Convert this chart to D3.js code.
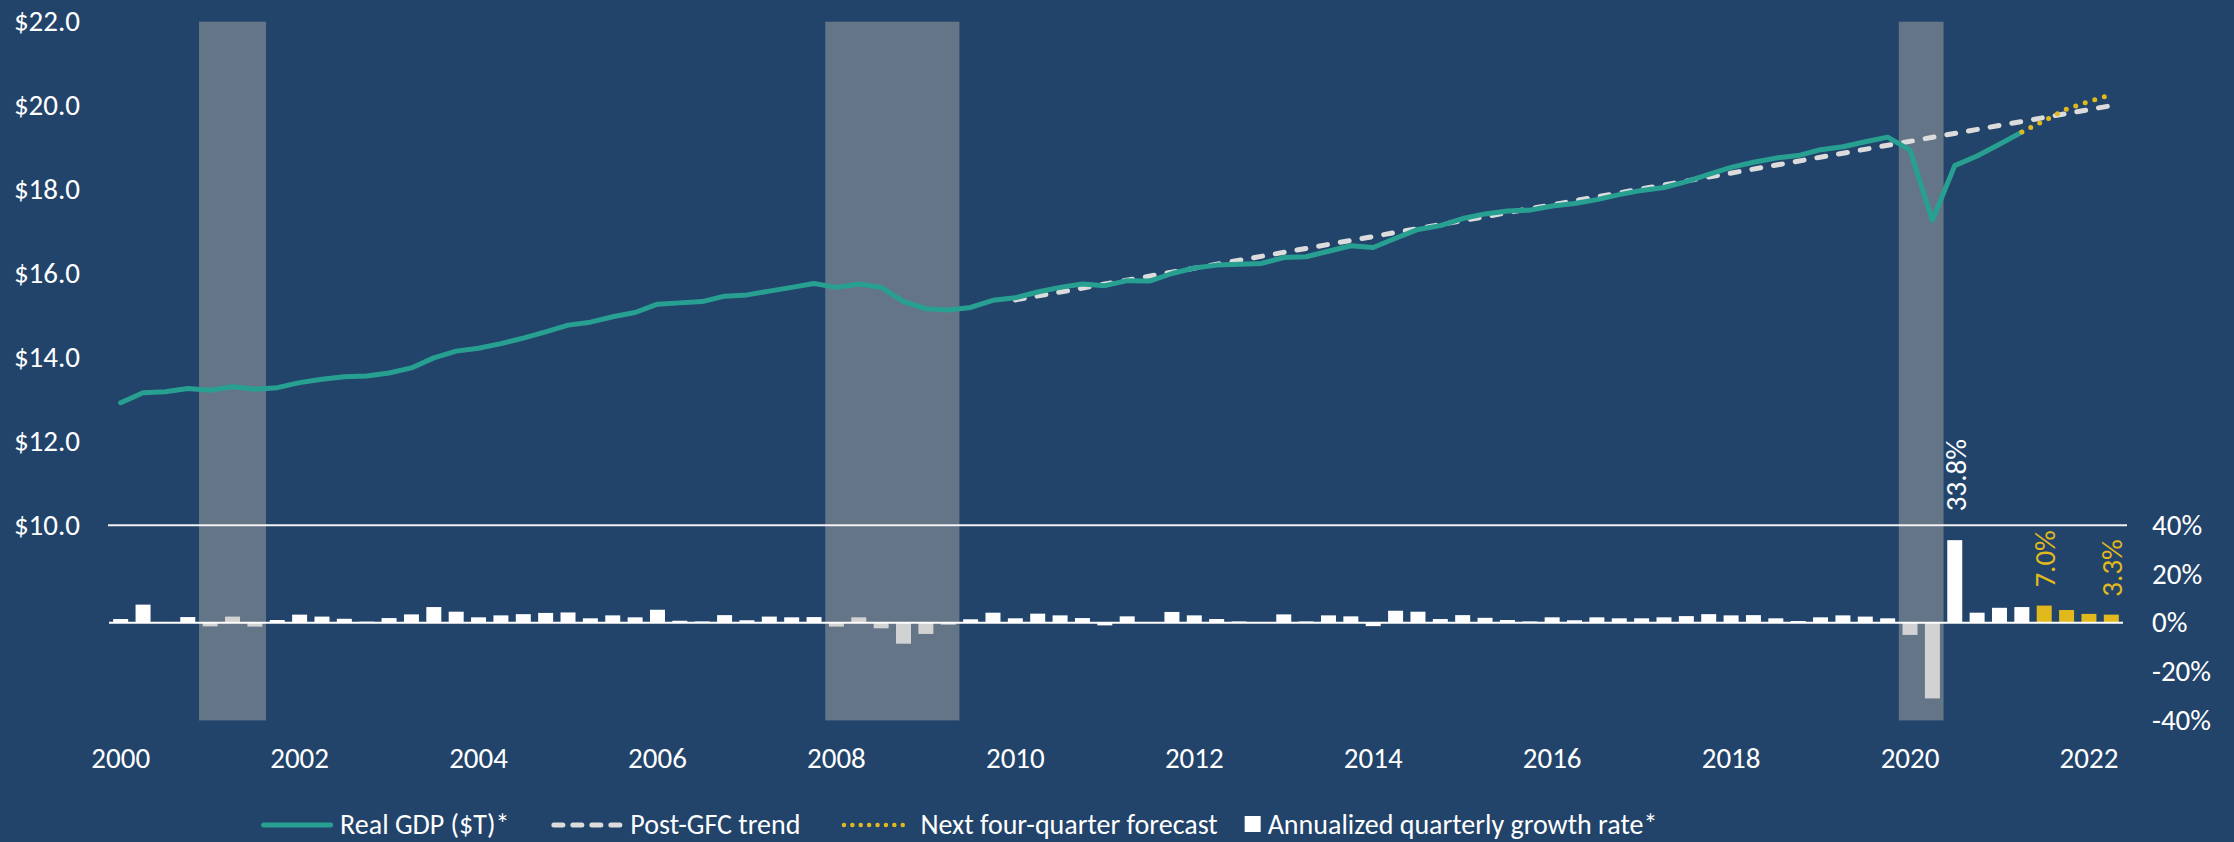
<!DOCTYPE html>
<html>
<head>
<meta charset="utf-8">
<script src="https://cdn.jsdelivr.net/npm/d3@7"></script>
<style>
  body { margin: 0; background: #22446b; }
  svg { display: block; font-family: Carlito, Calibri, Lato, sans-serif; }
</style>
</head>
<body>
<svg id="gdp_chart"></svg>
<script>
const width = 2234, height = 842;

// categories
const years = [2000, 2001, 2002, 2003, 2004, 2005, 2006, 2007, 2008, 2009, 2010,
  2011, 2012, 2013, 2014, 2015, 2016, 2017, 2018, 2019, 2020, 2021, 2022];
const quarters = years.flatMap(y => ["Q1", "Q2", "Q3", "Q4"].map(q => y + q)).slice(0, 90);

// real GDP, $T, 2000Q1 .. 2021Q2
const gdp = [
  12.92, 13.16, 13.18, 13.26, 13.22, 13.30, 13.24, 13.28,
  13.40, 13.48, 13.54, 13.56, 13.63, 13.75, 13.99, 14.15,
  14.22, 14.33, 14.46, 14.61, 14.77, 14.84, 14.97, 15.07,
  15.27, 15.30, 15.33, 15.46, 15.49, 15.58, 15.67, 15.76,
  15.67, 15.75, 15.67, 15.33, 15.16, 15.13, 15.19, 15.36,
  15.42, 15.56, 15.67, 15.75, 15.71, 15.83, 15.82, 16.00,
  16.13, 16.20, 16.22, 16.24, 16.38, 16.40, 16.53, 16.66,
  16.62, 16.84, 17.05, 17.14, 17.31, 17.42, 17.49, 17.51,
  17.61, 17.67, 17.76, 17.88, 17.98, 18.05, 18.19, 18.36,
  18.53, 18.65, 18.75, 18.81, 18.95, 19.02, 19.14, 19.25,
  18.94, 17.27, 18.57, 18.80, 19.08, 19.37
];

// annualized quarterly growth, %, 2000Q1 .. 2021Q2
const growth = [
  1.5, 7.4, 0.3, 2.3, -1.5, 2.5, -1.6, 1.1,
  3.3, 2.5, 1.6, 0.4, 1.9, 3.4, 6.4, 4.5,
  2.2, 3.0, 3.5, 4.0, 4.2, 1.8, 3.0, 2.2,
  5.3, 0.8, 0.5, 3.1, 1.0, 2.5, 2.2, 2.3,
  -1.6, 2.2, -2.3, -8.6, -4.6, -0.8, 1.4, 4.1,
  1.8, 3.7, 3.0, 1.9, -1.1, 2.6, -0.1, 4.4,
  3.0, 1.5, 0.5, 0.1, 3.4, 0.5, 3.0, 2.6,
  -1.4, 4.9, 4.5, 1.5, 3.1, 2.0, 1.1, 0.5,
  2.2, 1.0, 2.2, 1.8, 1.8, 2.2, 2.7, 3.5,
  3.0, 3.1, 1.8, 0.7, 2.2, 3.0, 2.5, 1.8,
  -5.0, -31.0, 33.8, 4.1, 6.1, 6.4
];

// next four quarters
const forecastQuarters = ["2021Q3", "2021Q4", "2022Q1", "2022Q2"];
const forecastGrowth = [7.0, 5.2, 3.6, 3.3];
const forecastGdpQuarters = ["2021Q2", "2021Q3", "2021Q4", "2022Q1", "2022Q2"];
const forecastGdp = [19.37, 19.64, 19.92, 20.10, 20.26];

// post-GFC trend end points
const trendQuarters = ["2010Q1", "2022Q2"];
const trendValues = [15.37, 20.0];

const recessions = [["2001Q1", "2001Q3"], ["2008Q1", "2009Q2"], ["2020Q1", "2020Q2"]];
const labelledQuarters = ["2020Q3", "2021Q3", "2022Q2"];

const gdpTicks = [10, 12, 14, 16, 18, 20, 22];
const growthTicks = [-40, -20, 0, 20, 40];
const yearTicks = ["2000Q1", "2002Q1", "2004Q1", "2006Q1", "2008Q1", "2010Q1", "2012Q1",
  "2014Q1", "2016Q1", "2018Q1", "2020Q1", "2022Q1"];

const colours = { teal: "#27a091", trend: "#dcdcdc", gold: "#e2b91c", shade: "#a6a6a6", text: "#ffffff" };
const fontSize = 29;

const svg = d3.select("#gdp_chart")
  .attr("width", width)
  .attr("height", height)
  .attr("viewBox", [0, 0, width, height]);

const actual = quarters.slice(0, gdp.length).map((q, i) => ({ q, gdp: gdp[i], growth: growth[i], forecast: false }));
const fcBars = forecastQuarters.map((q, i) => ({ q, growth: forecastGrowth[i], forecast: true }));
const bars = actual.concat(fcBars);

const x = d3.scaleBand()
  .domain(quarters)
  .range([109.5, 2122.5])
  .paddingInner(0.33)
  .paddingOuter(0.165);
const cx = q => x(q) + x.bandwidth() / 2;

const yLine = d3.scaleLinear().domain([10, 22]).range([525.3, 21.7]);
const yBar = d3.scaleLinear().domain([-40, 40]).range([720.4, 525]);

// bars
svg.append("g")
  .selectAll("rect")
  .data(bars)
  .join("rect")
  .attr("x", d => x(d.q))
  .attr("width", x.bandwidth())
  .attr("y", d => yBar(Math.max(0, d.growth)))
  .attr("height", d => Math.abs(yBar(d.growth) - yBar(0)))
  .attr("fill", d => d.forecast ? colours.gold : "#ffffff");

// recession shading (over the bars, under the lines)
const step = x.step();
svg.append("g")
  .selectAll("rect")
  .data(recessions)
  .join("rect")
  .attr("x", d => cx(d[0]) - step / 2)
  .attr("width", d => cx(d[1]) - cx(d[0]) + step)
  .attr("y", yLine(22))
  .attr("height", yBar(-40) - yLine(22))
  .attr("fill", colours.shade)
  .attr("fill-opacity", 0.5);

// $10 line and 0% baseline
svg.append("line")
  .attr("x1", 108).attr("x2", 2127)
  .attr("y1", yLine(10)).attr("y2", yLine(10))
  .attr("stroke", "#f2f2f2").attr("stroke-width", 2);
svg.append("line")
  .attr("x1", 109).attr("x2", 2123)
  .attr("y1", yBar(0)).attr("y2", yBar(0))
  .attr("stroke", "#ffffff").attr("stroke-width", 2);

// lines
const line = d3.line().x(d => cx(d[0])).y(d => yLine(d[1]));

svg.append("path")
  .datum(trendQuarters.map((q, i) => [q, trendValues[i]]))
  .attr("d", line)
  .attr("fill", "none")
  .attr("stroke", colours.trend)
  .attr("stroke-width", 5)
  .attr("stroke-linecap", "round")
  .attr("stroke-dasharray", "9 13");

svg.append("path")
  .datum(actual.map(d => [d.q, d.gdp]))
  .attr("d", line)
  .attr("fill", "none")
  .attr("stroke", colours.teal)
  .attr("stroke-width", 5)
  .attr("stroke-linejoin", "round")
  .attr("stroke-linecap", "round");

svg.append("path")
  .datum(forecastGdpQuarters.map((q, i) => [q, forecastGdp[i]]))
  .attr("d", line)
  .attr("fill", "none")
  .attr("stroke", colours.gold)
  .attr("stroke-width", 5)
  .attr("stroke-linecap", "round")
  .attr("stroke-dasharray", "0 10");

// value labels
svg.append("g")
  .selectAll("text")
  .data(bars.filter(d => labelledQuarters.includes(d.q)))
  .join("text")
  .attr("transform", d => `translate(${cx(d.q) + 1},${yBar(d.growth) - (d.forecast ? 18 : 29)}) rotate(-90)`)
  .attr("dy", "0.35em")
  .attr("font-size", fontSize)
  .attr("fill", d => d.forecast ? colours.gold : colours.text)
  .text(d => d.growth.toFixed(1) + "%");

// axes
const styleAxis = g => {
  g.attr("font-family", null).attr("font-size", null);
  g.select(".domain").remove();
  g.selectAll(".tick line").remove();
  g.selectAll("text").attr("fill", colours.text).attr("font-size", fontSize);
};

svg.append("g")
  .attr("transform", "translate(80,0)")
  .call(d3.axisLeft(yLine).tickValues(gdpTicks).tickFormat(d => "$" + d.toFixed(1)).tickSize(0).tickPadding(0))
  .call(styleAxis);

svg.append("g")
  .attr("transform", "translate(2152,0)")
  .call(d3.axisRight(yBar).tickValues(growthTicks).tickFormat(d => d + "%").tickSize(0).tickPadding(0))
  .call(styleAxis);

svg.append("g")
  .attr("transform", "translate(0,747)")
  .call(d3.axisBottom(x).tickValues(yearTicks).tickFormat(d => d.slice(0, 4)).tickSize(0).tickPadding(0))
  .call(styleAxis);

// legend
const legendItems = [
  { label: "Real GDP ($T)*", type: "line", gap: 42 },
  { label: "Post-GFC trend", type: "dash", gap: 41 },
  { label: "Next four-quarter forecast", type: "dot", gap: 27 },
  { label: "Annualized quarterly growth rate*", type: "square", gap: 0 }
];
const legend = svg.append("g");
let lx = 0;
legendItems.forEach(item => {
  const g = legend.append("g").attr("transform", `translate(${lx},0)`);
  let sw = 72;
  if (item.type === "square") {
    sw = 16;
    g.append("rect").attr("x", 0).attr("y", -9).attr("width", 16).attr("height", 16).attr("fill", "#ffffff");
  } else {
    const l = g.append("line").attr("x1", 2.5).attr("x2", sw - 2.5).attr("y1", 0).attr("y2", 0)
      .attr("stroke-width", 5).attr("stroke-linecap", "round");
    if (item.type === "line") l.attr("stroke", colours.teal);
    if (item.type === "dash") l.attr("stroke", colours.trend).attr("stroke-dasharray", "9 10");
    if (item.type === "dot") l.attr("stroke", colours.gold).attr("stroke-width", 4.5).attr("stroke-dasharray", "0 8.4");
  }
  const t = g.append("text")
    .attr("x", sw + 7)
    .attr("y", 9)
    .attr("font-size", 28)
    .attr("fill", colours.text)
    .text(item.label);
  lx += sw + 7 + t.node().getComputedTextLength() + item.gap;
});
const lb = legend.node().getBBox();
legend.attr("transform", `translate(${960.5 - (lb.x + lb.width / 2)},825)`);
</script>
</body>
</html>
